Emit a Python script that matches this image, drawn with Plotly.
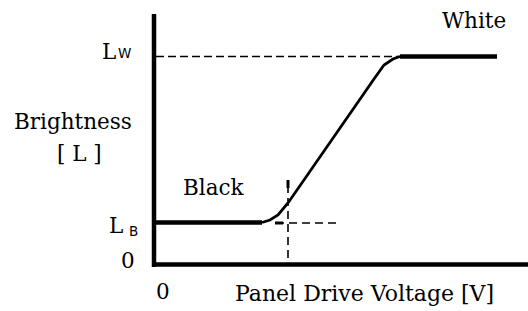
import plotly.graph_objects as go

# ---- data (Voltage units, Brightness units) ----
L_B = 4.25          # black level
L_W = 20.85         # white level
V_TH = 13.4         # threshold voltage marker

black_V = [0.2, 10.8]
black_L = [L_B, L_B]

trans_V = [10.8, 11.6, 12.4, 13.4, 22.0, 23.0, 23.9, 24.6]
trans_L = [4.25, 4.5, 5.0, 6.2, 18.6, 20.0, 20.6, 20.85]

white_V = [24.6, 34.3]
white_L = [L_W, L_W]

lw_guide_V = [0.2, 24.6]
th_guide_L = [0.7, 8.5]
lb_guide_V = [12.2, 18.3]

W, H = 528, 311
FONT = "DejaVu Serif"
SANS = "DejaVu Sans"


def px(x):
    return x / W


def py(y):
    return 1 - y / H


fig = go.Figure()

# curve
fig.add_trace(go.Scatter(x=black_V, y=black_L, mode="lines",
                         line=dict(color="black", width=4.5)))
fig.add_trace(go.Scatter(x=trans_V, y=trans_L, mode="lines",
                         line=dict(color="black", width=2.8, shape="linear")))
fig.add_trace(go.Scatter(x=white_V, y=white_L, mode="lines",
                         line=dict(color="black", width=4.5)))

# dashed guides
fig.add_trace(go.Scatter(x=lw_guide_V, y=[L_W, L_W], mode="lines",
                         line=dict(color="black", width=1.6, dash="8px,4px")))
fig.add_trace(go.Scatter(x=[V_TH, V_TH], y=th_guide_L, mode="lines",
                         line=dict(color="black", width=1.6, dash="8px,5px")))
fig.add_trace(go.Scatter(x=lb_guide_V, y=[L_B - 0.05, L_B - 0.05], mode="lines",
                         line=dict(color="black", width=1.6, dash="8px,5px")))
# short heavy ticks at the crosshair
fig.add_trace(go.Scatter(x=[V_TH, V_TH], y=[th_guide_L[1], th_guide_L[1] - 0.8], mode="lines",
                         line=dict(color="black", width=3)))
fig.add_trace(go.Scatter(x=[lb_guide_V[0] - 0.1, lb_guide_V[0] + 0.7], y=[L_B - 0.05, L_B - 0.05],
                         mode="lines", line=dict(color="black", width=3)))

# axes lines
fig.add_shape(type="line", x0=0, x1=0, y0=-0.2, y1=25.1, xref="x", yref="y",
              line=dict(color="black", width=4.5))
fig.add_shape(type="line", x0=-0.2, x1=37.4, y0=0.05, y1=0.05, xref="x", yref="y",
              line=dict(color="black", width=4.5))


def label(text, x, y, size=21.5, family=FONT, xanchor="center"):
    fig.add_annotation(text=text, x=px(x), y=py(y), xref="paper", yref="paper",
                       showarrow=False, xanchor=xanchor, yanchor="middle",
                       font=dict(family=family, size=size, color="black"))


label("White", 473.5, 21)
label("L", 117.5, 51, xanchor="right")
label("W", 115.5, 53.5, size=13.5, family=SANS, xanchor="left")
label("Brightness", 72.5, 121)
label("[ L ]", 79.5, 153)
label("Black", 213.5, 187)
label("L", 124.5, 225, xanchor="right")
label("B", 126.5, 230.5, size=13.5, family=SANS, xanchor="left")
label("0", 127.5, 260)
label("0", 162.5, 291)
label("Panel Drive Voltage [V]", 364.5, 293, size=22)

fig.update_layout(
    width=W, height=H,
    margin=dict(l=0, r=0, t=0, b=0),
    paper_bgcolor="white", plot_bgcolor="white",
    showlegend=False,
    xaxis=dict(range=[-15.4, 37.4], visible=False, fixedrange=True),
    yaxis=dict(range=[-4.6, 26.5], visible=False, fixedrange=True),
)

fig.write_html("out.html",
               config={"displayModeBar": False},
               post_script="document.body.style.margin='0';document.body.style.overflow='hidden';")
